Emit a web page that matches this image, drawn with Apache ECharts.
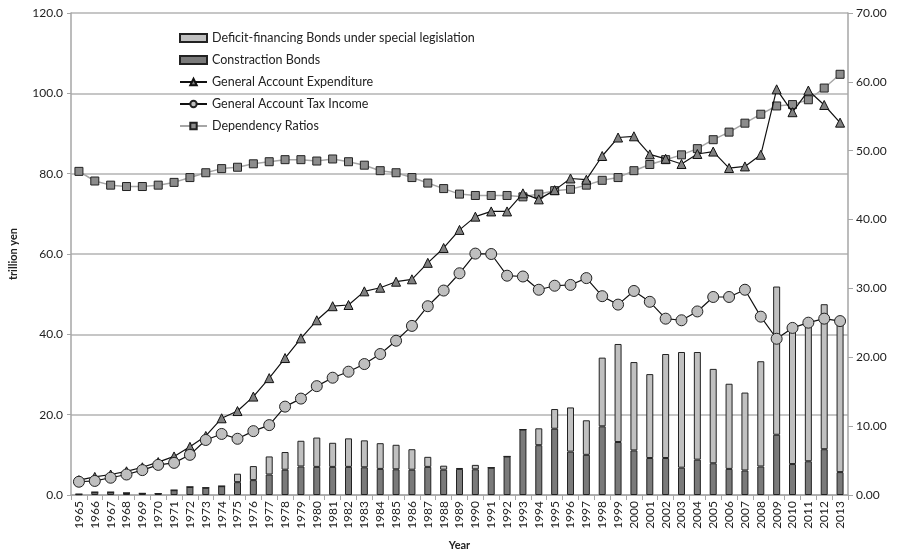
<!DOCTYPE html>
<html>
<head>
<meta charset="utf-8">
<script src="https://cdn.jsdelivr.net/npm/echarts@6/dist/echarts.min.js"></script>
<style>html,body{margin:0;padding:0;background:#fff}#c{width:898px;height:556px}</style>
</head>
<body>
<div id="c"></div>
<script>
const years = ['1965','1966','1967','1968','1969','1970','1971','1972','1973','1974','1975','1976','1977','1978','1979','1980','1981','1982','1983','1984','1985','1986','1987','1988','1989','1990','1991','1992','1993','1994','1995','1996','1997','1998','1999','2000','2001','2002','2003','2004','2005','2006','2007','2008','2009','2010','2011','2012','2013'];
const constructionBonds = [0.2,0.7,0.7,0.5,0.4,0.35,1.2,2.0,1.8,2.2,3.2,3.7,5.1,6.3,7.1,7.0,7.0,7.0,6.9,6.5,6.4,6.3,7.0,6.3,6.5,6.4,6.8,9.6,16.3,12.4,16.5,10.8,10.0,17.1,13.2,11.1,9.2,9.2,6.8,8.8,7.9,6.5,6.1,7.1,15.0,7.7,8.4,11.4,5.7];
const deficitBonds = [0.0,0.0,0.0,0.0,0.0,0.0,0.0,0.0,0.0,0.0,2.1,3.5,4.5,4.4,6.4,7.3,6.0,7.1,6.7,6.4,6.1,5.1,2.5,1.0,0.2,1.1,0.0,0.0,0.0,4.2,4.9,11.0,8.6,17.1,24.4,22.0,20.9,25.9,28.8,26.8,23.5,21.2,19.4,26.2,36.9,34.6,34.4,36.1,36.8];
const expenditure = [3.7,4.5,5.1,5.9,6.9,8.2,9.6,12.0,14.7,19.1,20.9,24.5,29.1,34.1,39.0,43.5,47.0,47.3,50.7,51.6,53.1,53.7,57.8,61.5,66.0,69.3,70.6,70.6,75.1,73.6,75.9,78.8,78.5,84.4,89.0,89.3,84.8,83.7,82.4,84.9,85.5,81.4,81.8,84.7,101.0,95.3,100.7,97.1,92.7];
const taxIncome = [3.3,3.5,4.3,5.1,6.2,7.5,8.0,10.0,13.7,15.2,14.0,15.9,17.4,22.0,24.0,27.1,29.2,30.7,32.6,35.1,38.4,42.1,47.0,50.9,55.2,60.1,60.0,54.6,54.4,51.1,52.1,52.3,54.0,49.5,47.4,50.8,48.1,43.9,43.5,45.7,49.3,49.3,51.1,44.4,38.9,41.6,42.9,43.9,43.3];
const dependencyRatios = [47.0,45.6,45.0,44.8,44.8,45.0,45.4,46.1,46.8,47.4,47.6,48.1,48.4,48.7,48.7,48.5,48.8,48.4,47.9,47.1,46.8,46.1,45.3,44.5,43.7,43.5,43.5,43.5,43.3,43.7,44.2,44.4,45.0,45.7,46.1,47.1,48.0,48.7,49.4,50.3,51.6,52.7,54.0,55.3,56.5,56.7,57.4,59.1,61.1];
const leftTicks = {min:0, max:120, interval:20};
const rightTicks = {min:0, max:70, interval:10};

const FONT = 'Lato';
const txt = '#222';
const chart = echarts.init(document.getElementById('c'), null, {renderer:'canvas'});
chart.setOption({
  animation:false,
  backgroundColor:'#fff',
  textStyle:{fontFamily:FONT},
  grid:{left:68, right:50, top:13, bottom:56},
  legend:{
    orient:'vertical', left:174, top:26.5, itemGap:9, itemWidth:27, itemHeight:8,
    textStyle:{fontFamily:FONT, fontSize:12.5, color:txt},
    data:[
      {name:'Deficit-financing Bonds under special legislation', icon:'rect'},
      {name:'Constraction Bonds', icon:'rect'},
      'General Account Expenditure','General Account Tax Income','Dependency Ratios'
    ]
  },
  xAxis:{
    type:'category', data:years, boundaryGap:true,
    name:'Year', nameLocation:'middle', nameGap:45,
    nameTextStyle:{fontWeight:'bold', fontSize:11, color:txt, fontFamily:FONT},
    axisLine:{lineStyle:{color:'#a6a6a6', width:1.5}},
    axisTick:{show:true, interval:0, length:5, lineStyle:{color:'#a6a6a6'}},
    axisLabel:{rotate:90, interval:0, fontSize:12, color:txt, margin:6, fontFamily:FONT}
  },
  yAxis:[
    {type:'value', min:leftTicks.min, max:leftTicks.max, interval:leftTicks.interval,
     name:'trillion yen', nameLocation:'middle', nameGap:52,
     nameTextStyle:{fontWeight:'bold', fontSize:11, color:txt, fontFamily:FONT},
     axisLine:{show:true, lineStyle:{color:'#a6a6a6', width:1.5}},
     axisTick:{show:true, length:4, lineStyle:{color:'#a6a6a6'}},
     axisLabel:{formatter:v=>v.toFixed(1), fontSize:12, color:txt, margin:8, fontFamily:FONT},
     splitLine:{show:true, lineStyle:{color:'#b3b3b3', width:1.5}}},
    {type:'value', min:rightTicks.min, max:rightTicks.max, interval:rightTicks.interval, position:'right',
     axisLine:{show:true, lineStyle:{color:'#a6a6a6', width:1.5}},
     axisTick:{show:true, length:5, lineStyle:{color:'#a6a6a6'}},
     axisLabel:{formatter:v=>v.toFixed(2), fontSize:12, color:txt, margin:8, fontFamily:FONT},
     splitLine:{show:false}}
  ],
  series:[
    {name:'Constraction Bonds', type:'bar', stack:'b', data:constructionBonds, barWidth:7,
     itemStyle:{color:'#7a7a7a', borderColor:'#222', borderWidth:1}},
    {name:'Deficit-financing Bonds under special legislation', type:'bar', stack:'b', data:deficitBonds, barWidth:7,
     itemStyle:{color:'#c0c0c0', borderColor:'#222', borderWidth:1}},
    {name:'General Account Expenditure', type:'line', data:expenditure, symbol:'triangle', symbolSize:9,
     lineStyle:{color:'#111', width:1.2}, itemStyle:{color:'#808080', borderColor:'#111', borderWidth:1}, z:4},
    {name:'General Account Tax Income', type:'line', data:taxIncome, symbol:'circle', symbolSize:11,
     lineStyle:{color:'#111', width:1.2}, itemStyle:{color:'#bfbfbf', borderColor:'#222', borderWidth:1}, z:5},
    {name:'Dependency Ratios', type:'line', yAxisIndex:1, data:dependencyRatios, symbol:'rect', symbolSize:8,
     lineStyle:{color:'#a6a6a6', width:1.5}, itemStyle:{color:'#8c8c8c', borderColor:'#222', borderWidth:1}, z:3}
  ]
});
</script>
</body>
</html>
